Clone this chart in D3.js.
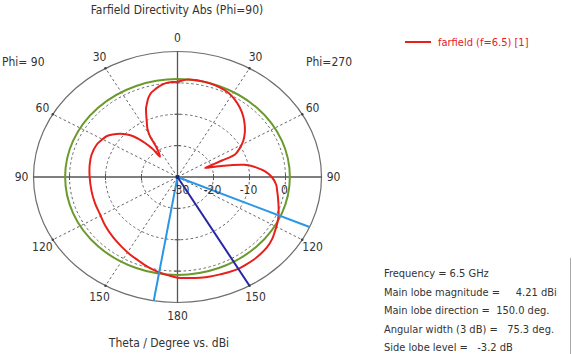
<!DOCTYPE html>
<html>
<head>
<meta charset="utf-8">
<script src="https://cdn.jsdelivr.net/npm/d3@7"></script>
<style>
body { margin: 0; background: #fff; }
svg { display: block; font-family: Tahoma, "DejaVu Sans Condensed", "DejaVu Sans", sans-serif; }
</style>
</head>
<body>
<svg id="chart" width="572" height="354"></svg>
<script>
// farfield cut, theta in degrees (clockwise from top), directivity in dBi, in path order
var theta = [0, 5, 10, 16, 22, 28, 33, 38, 43, 48, 53, 58, 62, 65.8, 66.9, 67.9, 69.4, 73.1, 78.2, 82,
	86, 90, 95, 99.5, 104, 109, 114, 118, 122.5, 127, 132.3, 137, 141.3, 146, 150, 155, 159.2, 164, 169, 174,
	180, 185, 189, 193, 196.8, 202, 208.1, 215, 222.6, 232, 241, 250, 259.3, 270, 279, 286.7, 294.8, 299, 303.4, 307,
	310.7, 314, 316.6, 318.6, 320.3, 321.5, 322.5, 323.3, 328.1, 329, 329.5, 331.5, 334.3, 336.5, 338.4, 340.5, 342.2, 345, 348,
	351, 354.3, 357];
var gain = [0.4, 1.2, 1.3, 1.2, 0.9, 0.3, -0.7, -1.9, -3.3, -4.9, -6.6, -8.5, -10.4, -12.5, -16.6, -19.4, -21.8, -18.2, -11, -8,
	-5.5, -3.8, -2.5, -1.9, -1.2, -0.3, 0.7, 1.4, 2.1, 2.9, 3.5, 3.7, 3.8, 3.8, 3.8, 3.5, 3.2, 3.0, 2.7, 2.4,
	2.1, 1.4, 0.9, 0.3, -0.3, -1.2, -2.0, -2.9, -3.7, -4.6, -5.4, -5.6, -5.7, -5.6, -5.3, -5.1, -5.3, -5.8, -6.4, -7.5,
	-8.9, -10.5, -12.1, -14, -15.9, -17.5, -19, -21.9, -19.1, -17, -14.9, -12.5, -10.3, -8.2, -6.3, -4.8, -3.5, -2.1, -1.2,
	-0.4, 0.15, 0.3];

var ringLevels = [-20, -10, 0];
var dbTicks = [-30, -20, -10, 0];
var spokeAngles = [30, 60, 120, 150, 210, 240, 300, 330];
var angleLabels = ["0", "30", "60", "90", "120", "150", "180", "150", "120", "90", "60", "30"];
var mainLobeMag = 4.21;
var mainLobeDir = 150;
var beamEdges = [113.5, 189.5];
var legendLabel = "farfield (f=6.5) [1]";
var infoLines = [
	"Frequency = 6.5 GHz",
	"Main lobe magnitude =     4.21 dBi",
	"Main lobe direction =  150.0 deg.",
	"Angular width (3 dB) =   75.3 deg.",
	"Side lobe level =   -3.2 dB"
];

var svg = d3.select("#chart"),
	cx = 177.5,
	cy = 177,
	rx = 144,
	ry = 125.5;

var rScale = d3.scaleLinear().domain([-30, 10]).range([0, 1]);

function pt(a, db) {
	var k = rScale(db), t = a * Math.PI / 180;
	return [cx + rx * k * Math.sin(t), cy - ry * k * Math.cos(t)];
}

var grid = svg.append("g");

// dashed level rings
grid.selectAll("ellipse.ring").data(ringLevels).enter().append("ellipse")
	.attr("cx", cx).attr("cy", cy)
	.attr("rx", function(d) { return rx * rScale(d); })
	.attr("ry", function(d) { return ry * rScale(d); })
	.attr("fill", "none").attr("stroke", "#666").attr("stroke-width", 1)
	.attr("stroke-dasharray", "2.5,2.5");

// dashed spokes
grid.selectAll("line.spoke").data(spokeAngles).enter().append("line")
	.attr("x1", cx).attr("y1", cy)
	.attr("x2", function(d) { return pt(d, 10)[0]; })
	.attr("y2", function(d) { return pt(d, 10)[1]; })
	.attr("stroke", "#666").attr("stroke-width", 1)
	.attr("stroke-dasharray", "2.5,2.5");

// outer ellipse
grid.append("ellipse")
	.attr("cx", cx).attr("cy", cy)
	.attr("rx", rx).attr("ry", ry)
	.attr("fill", "none").attr("stroke", "#6e6e6e").attr("stroke-width", 1.2);

grid.selectAll("circle.dot").data(spokeAngles).enter().append("circle")
	.attr("cx", function(d) { return pt(d, 10)[0]; })
	.attr("cy", function(d) { return pt(d, 10)[1]; })
	.attr("r", 1.3).attr("fill", "#444");

// solid axes
grid.append("line").attr("x1", cx - rx).attr("x2", cx + rx).attr("y1", cy).attr("y2", cy)
	.attr("stroke", "#555").attr("stroke-width", 1.3);
grid.append("line").attr("x1", cx).attr("x2", cx).attr("y1", cy - ry).attr("y2", cy + ry)
	.attr("stroke", "#555").attr("stroke-width", 1.3);

// tick marks on the axes
ringLevels.forEach(function(lv) {
	[90, 270].forEach(function(a) {
		var p = pt(a, lv);
		grid.append("line").attr("x1", p[0]).attr("x2", p[0]).attr("y1", cy - 3).attr("y2", cy + 3)
			.attr("stroke", "#555");
	});
	[0, 180].forEach(function(a) {
		var p = pt(a, lv);
		grid.append("line").attr("x1", cx - 3).attr("x2", cx + 3).attr("y1", p[1]).attr("y2", p[1])
			.attr("stroke", "#555");
	});
});

// 3 dB ring
svg.append("ellipse")
	.attr("cx", cx).attr("cy", cy)
	.attr("rx", rx * rScale(mainLobeMag - 3))
	.attr("ry", ry * rScale(mainLobeMag - 3))
	.attr("fill", "none").attr("stroke", "#6a9a2c").attr("stroke-width", 2);

// pattern
var pattern = theta.map(function(a, i) { return pt(a, gain[i]); });
svg.append("path")
	.attr("d", d3.line().curve(d3.curveCatmullRomClosed.alpha(0.5))(pattern))
	.attr("fill", "none").attr("stroke", "#e8201c").attr("stroke-width", 2);

// main lobe and beamwidth lines
svg.selectAll("line.edge").data(beamEdges).enter().append("line")
	.attr("x1", cx).attr("y1", cy)
	.attr("x2", function(d) { return pt(d, 10)[0]; })
	.attr("y2", function(d) { return pt(d, 10)[1]; })
	.attr("stroke", "#2a96e6").attr("stroke-width", 2);
svg.append("line")
	.attr("x1", cx).attr("y1", cy)
	.attr("x2", pt(mainLobeDir, 10)[0]).attr("y2", pt(mainLobeDir, 10)[1])
	.attr("stroke", "#2626a6").attr("stroke-width", 2);
svg.append("circle").attr("cx", cx).attr("cy", cy).attr("r", 2).attr("fill", "#1b2a6e");

// dB labels along the horizontal axis
svg.selectAll("text.db").data(dbTicks).enter().append("text")
	.attr("x", function(d, i) { return pt(90, d)[0] + (i == 0 ? 3 : -1); })
	.attr("y", cy + 17)
	.attr("text-anchor", "middle")
	.attr("font-size", 12).attr("fill", "#333")
	.text(function(d) { return d; });

// angle labels
svg.selectAll("text.ang").data(angleLabels).enter().append("text")
	.attr("x", function(d, i) { return cx + 156 * Math.sin(i * 30 * Math.PI / 180); })
	.attr("y", function(d, i) { return cy - 139 * Math.cos(i * 30 * Math.PI / 180) + 4; })
	.attr("text-anchor", "middle")
	.attr("font-size", 12).attr("fill", "#333")
	.text(function(d) { return d; });

svg.append("text").attr("x", 2).attr("y", 66).attr("font-size", 12).attr("fill", "#333").text("Phi= 90");
svg.append("text").attr("x", 306).attr("y", 66).attr("font-size", 12).attr("fill", "#333").text("Phi=270");

svg.append("text").attr("x", 177).attr("y", 14).attr("text-anchor", "middle")
	.attr("font-size", 12).attr("fill", "#333").text("Farfield Directivity Abs (Phi=90)");
svg.append("text").attr("x", 169).attr("y", 347).attr("text-anchor", "middle")
	.attr("font-size", 12).attr("fill", "#333").text("Theta / Degree vs. dBi");

// legend
svg.append("line").attr("x1", 405).attr("x2", 431).attr("y1", 42).attr("y2", 42)
	.attr("stroke", "#e8201c").attr("stroke-width", 2);
svg.append("text").attr("x", 438).attr("y", 46).attr("font-size", 11).attr("fill", "#e8201c").text(legendLabel);

// info box
svg.append("line").attr("x1", 570.5).attr("x2", 570.5).attr("y1", 258).attr("y2", 354)
	.attr("stroke", "#aaa");
svg.selectAll("text.info").data(infoLines).enter().append("text")
	.attr("x", 384)
	.attr("y", function(d, i) { return 277 + i * 18.6; })
	.attr("font-size", 11).attr("fill", "#333")
	.style("white-space", "pre")
	.text(function(d) { return d; });
</script>
</body>
</html>
